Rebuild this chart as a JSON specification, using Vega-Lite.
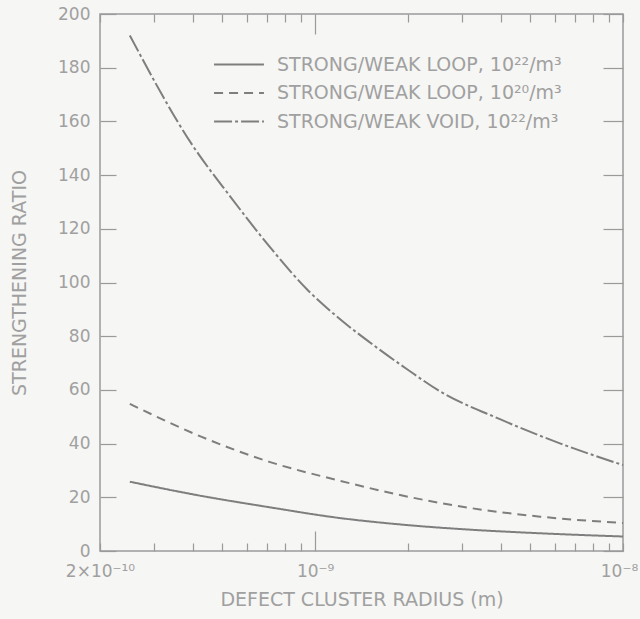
{
  "$schema": "https://vega.github.io/schema/vega-lite/v6.json",
  "width": 523,
  "height": 537,
  "autosize": "none",
  "padding": {"left": 100, "top": 14, "right": 17, "bottom": 68},
  "background": "#f6f6f4",
  "config": {
    "view": {"stroke": "#9a9a9a", "strokeWidth": 1.5},
    "font": "DejaVu Sans",
    "axis": {"grid": false, "domain": false, "tickColor": "#9a9a9a", "tickWidth": 1.2, "labelColor": "#a0a0a0", "titleColor": "#a0a0a0", "labelFont": "DejaVu Sans", "titleFont": "DejaVu Sans", "titleFontWeight": "normal"}
  },
  "data": {
    "values": [
      {"series": "STRONG/WEAK LOOP, 10²²/m³", "r": 2.5e-10, "ratio": 25.8},
      {"series": "STRONG/WEAK LOOP, 10²²/m³", "r": 4.28e-10, "ratio": 20.5},
      {"series": "STRONG/WEAK LOOP, 10²²/m³", "r": 7.1e-10, "ratio": 16.3},
      {"series": "STRONG/WEAK LOOP, 10²²/m³", "r": 1.18e-9, "ratio": 12.4},
      {"series": "STRONG/WEAK LOOP, 10²²/m³", "r": 1.95e-9, "ratio": 9.75},
      {"series": "STRONG/WEAK LOOP, 10²²/m³", "r": 3.24e-9, "ratio": 7.9},
      {"series": "STRONG/WEAK LOOP, 10²²/m³", "r": 5.38e-9, "ratio": 6.6},
      {"series": "STRONG/WEAK LOOP, 10²²/m³", "r": 1e-8, "ratio": 5.4},
      {"series": "STRONG/WEAK LOOP, 10²⁰/m³", "r": 2.5e-10, "ratio": 54.8},
      {"series": "STRONG/WEAK LOOP, 10²⁰/m³", "r": 4.28e-10, "ratio": 42.5},
      {"series": "STRONG/WEAK LOOP, 10²⁰/m³", "r": 7.1e-10, "ratio": 33.2},
      {"series": "STRONG/WEAK LOOP, 10²⁰/m³", "r": 1.18e-9, "ratio": 26.4},
      {"series": "STRONG/WEAK LOOP, 10²⁰/m³", "r": 1.95e-9, "ratio": 20.5},
      {"series": "STRONG/WEAK LOOP, 10²⁰/m³", "r": 3.24e-9, "ratio": 15.9},
      {"series": "STRONG/WEAK LOOP, 10²⁰/m³", "r": 5.38e-9, "ratio": 12.8},
      {"series": "STRONG/WEAK LOOP, 10²⁰/m³", "r": 1e-8, "ratio": 10.4},
      {"series": "STRONG/WEAK VOID, 10²²/m³", "r": 2.5e-10, "ratio": 192},
      {"series": "STRONG/WEAK VOID, 10²²/m³", "r": 4.0e-10, "ratio": 151},
      {"series": "STRONG/WEAK VOID, 10²²/m³", "r": 5.3e-10, "ratio": 132},
      {"series": "STRONG/WEAK VOID, 10²²/m³", "r": 7.2e-10, "ratio": 112.6},
      {"series": "STRONG/WEAK VOID, 10²²/m³", "r": 9.4e-10, "ratio": 97.5},
      {"series": "STRONG/WEAK VOID, 10²²/m³", "r": 1.2e-9, "ratio": 86.5},
      {"series": "STRONG/WEAK VOID, 10²²/m³", "r": 1.55e-9, "ratio": 76.6},
      {"series": "STRONG/WEAK VOID, 10²²/m³", "r": 2.0e-9, "ratio": 67.5},
      {"series": "STRONG/WEAK VOID, 10²²/m³", "r": 2.5e-9, "ratio": 60.0},
      {"series": "STRONG/WEAK VOID, 10²²/m³", "r": 4.0e-9, "ratio": 49.0},
      {"series": "STRONG/WEAK VOID, 10²²/m³", "r": 6.27e-9, "ratio": 40.0},
      {"series": "STRONG/WEAK VOID, 10²²/m³", "r": 1e-8, "ratio": 32.0}
    ]
  },
  "layer": [
    {
      "mark": {"type": "line", "color": "#7e7e7e", "strokeWidth": 2, "interpolate": "monotone"},
      "encoding": {
        "x": {
          "field": "r", "type": "quantitative",
          "scale": {"type": "log", "domain": [2e-10, 1e-8], "nice": false},
          "axis": {
            "orient": "bottom",
            "values": [2e-10, 3e-10, 4e-10, 5e-10, 6e-10, 7e-10, 8e-10, 9e-10, 1e-9, 2e-9, 3e-9, 4e-9, 5e-9, 6e-9, 7e-9, 8e-9, 9e-9, 1e-8],
            "labelExpr": "abs(datum.value - 2e-10) < 1e-12 ? '2×10⁻¹⁰' : abs(datum.value - 1e-9) < 1e-12 ? '10⁻⁹' : abs(datum.value - 1e-8) < 1e-12 ? '10⁻⁸' : ''",
            "labelOverlap": false,
            "labelFlush": false,
            "labelBound": false,
            "labelFontSize": 17,
            "labelOffset": {"condition": {"test": "abs(datum.value - 1e-8) < 1e-12", "value": -4}, "value": 0},
            "labelPadding": {"condition": {"test": "abs(datum.value - 1e-9) < 1e-12", "value": 32}, "value": 20},
            "tickSize": {"condition": {"test": "abs(datum.value - 1e-9) < 1e-12", "value": -20}, "value": -8},
            "title": "DEFECT CLUSTER RADIUS (m)",
            "titleFontSize": 19,
            "titlePadding": 11
          }
        },
        "y": {
          "field": "ratio", "type": "quantitative",
          "scale": {"domain": [0, 200], "nice": false},
          "axis": {
            "orient": "left",
            "values": [0, 20, 40, 60, 80, 100, 120, 140, 160, 180, 200],
            "labelFontSize": 17,
            "labelPadding": 26,
            "tickSize": -16,
            "title": "STRENGTHENING RATIO",
            "titleFontSize": 19,
            "titlePadding": 28
          }
        },
        "strokeDash": {
          "field": "series", "type": "nominal",
          "scale": {
            "domain": ["STRONG/WEAK LOOP, 10²²/m³", "STRONG/WEAK LOOP, 10²⁰/m³", "STRONG/WEAK VOID, 10²²/m³"],
            "range": [[1, 0], [9, 6], [18, 3, 3, 3]]
          },
          "legend": {
            "orient": "none",
            "legendX": 123.5,
            "legendY": 35,
            "title": null,
            "symbolType": "M-1.72,0H1.72",
            "symbolSize": 841,
            "symbolStrokeWidth": 2,
            "symbolStrokeColor": "#7e7e7e",
            "symbolFillColor": "transparent",
            "labelFontSize": 19,
            "labelColor": "#a0a0a0",
            "labelFont": "DejaVu Sans",
            "labelLimit": 400,
            "labelOffset": 22.5,
            "rowPadding": 2.5
          }
        }
      }
    },
    {
      "mark": {"type": "line", "opacity": 0},
      "encoding": {
        "x": {
          "field": "r", "type": "quantitative",
          "axis": {
            "orient": "top",
            "values": [2e-10, 3e-10, 4e-10, 5e-10, 6e-10, 7e-10, 8e-10, 9e-10, 1e-9, 2e-9, 3e-9, 4e-9, 5e-9, 6e-9, 7e-9, 8e-9, 9e-9, 1e-8],
            "labels": false,
            "title": null,
            "tickSize": {"condition": {"test": "abs(datum.value - 1e-9) < 1e-12", "value": -20}, "value": -8}
          }
        },
        "y": {
          "field": "ratio", "type": "quantitative",
          "axis": {
            "orient": "right",
            "values": [0, 20, 40, 60, 80, 100, 120, 140, 160, 180, 200],
            "labels": false,
            "title": null,
            "tickSize": -20
          }
        },
        "detail": {"field": "series", "type": "nominal"}
      }
    }
  ],
  "resolve": {"axis": {"x": "independent", "y": "independent"}}
}
